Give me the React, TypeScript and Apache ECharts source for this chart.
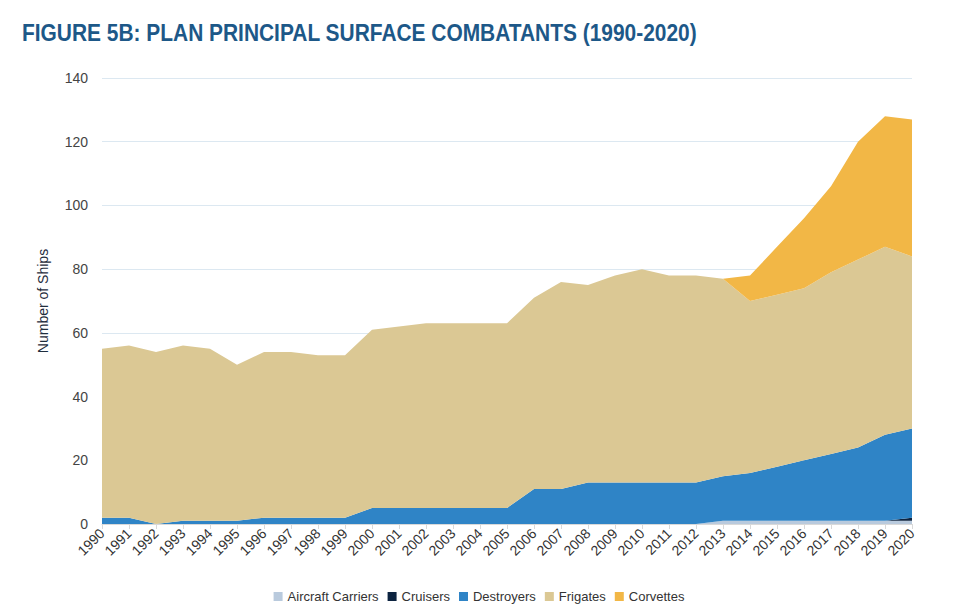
import React, { useEffect, useRef } from "react";
import * as echarts from "echarts";

const years = [
  "1990","1991","1992","1993","1994","1995","1996","1997","1998","1999",
  "2000","2001","2002","2003","2004","2005","2006","2007","2008","2009",
  "2010","2011","2012","2013","2014","2015","2016","2017","2018","2019","2020",
];
const carriers = [0,0,0,0,0,0,0,0,0,0, 0,0,0,0,0,0,0,0,0,0, 0,0,0,1,1,1,1,1,1,1,1];
const cruisers = [0,0,0,0,0,0,0,0,0,0, 0,0,0,0,0,0,0,0,0,0, 0,0,0,0,0,0,0,0,0,0,1];
const destroyers = [2,2,0,1,1,1,2,2,2,2, 5,5,5,5,5,5,11,11,13,13, 13,13,13,14,15,17,19,21,23,27,28];
const frigates = [53,54,54,55,54,49,52,52,51,51, 56,57,58,58,58,58,60,65,62,65, 67,65,65,62,54,54,54,57,59,59,54];
const corvettes = [0,0,0,0,0,0,0,0,0,0, 0,0,0,0,0,0,0,0,0,0, 0,0,0,0,8,15,22,27,37,41,43];
const yTicks = { min: 0, max: 140, interval: 20 };
const titleText = "FIGURE 5B: PLAN PRINCIPAL SURFACE COMBATANTS (1990-2020)";

const seriesDefs = [
  { name: "Aircraft Carriers", data: carriers, color: "#b9cadd" },
  { name: "Cruisers", data: cruisers, color: "#0c2340" },
  { name: "Destroyers", data: destroyers, color: "#2f84c6" },
  { name: "Frigates", data: frigates, color: "#dbc894" },
  { name: "Corvettes", data: corvettes, color: "#f2b746" },
];

export default function App() {
  const ref = useRef<HTMLDivElement>(null);
  useEffect(() => {
    const chart = echarts.init(ref.current!, null, { renderer: "svg" });
    const font = "'Liberation Sans', Arial, sans-serif";
    chart.setOption({
      animation: false,
      backgroundColor: "#ffffff",
      graphic: [
        {
          type: "text",
          x: 14,
          y: 14,
          scaleX: 0.91,
          style: {
            text: titleText,
            fill: "#1d5888",
            fontFamily: "'Liberation Sans', Arial, sans-serif",
            fontSize: 23,
            fontWeight: "bold",
            textVerticalAlign: "top",
          },
        },
      ],
      legend: {
        top: 577,
        left: "center",
        itemWidth: 9,
        itemHeight: 9,
        itemGap: 9,
        icon: "rect",
        textStyle: { fontFamily: font, fontSize: 13, color: "#333" },
        data: seriesDefs.map((s) => s.name),
      },
      grid: { left: 94, right: 38, top: 70, bottom: 83, containLabel: false },
      xAxis: {
        type: "category",
        data: years,
        boundaryGap: false,
        axisLine: { lineStyle: { color: "#d9d9d9" } },
        axisTick: { show: true, lineStyle: { color: "#d9d9d9" } },
        axisLabel: {
          rotate: 45,
          interval: 0,
          fontFamily: font,
          fontSize: 14,
          color: "#333",
          margin: 7,
        },
      },
      yAxis: {
        type: "value",
        min: yTicks.min,
        max: yTicks.max,
        interval: yTicks.interval,
        name: "Number of Ships",
        nameLocation: "middle",
        nameGap: 52,
        nameTextStyle: { fontFamily: font, fontSize: 14, color: "#1f2d3d" },
        axisLine: { show: false },
        axisTick: { show: false },
        axisLabel: { fontFamily: font, fontSize: 14, color: "#444", margin: 14 },
        splitLine: { lineStyle: { color: "#dce8f1" } },
      },
      series: seriesDefs.map((s) => ({
        name: s.name,
        type: "line",
        stack: "total",
        data: s.data,
        symbol: "none",
        lineStyle: { width: 0 },
        areaStyle: { color: s.color, opacity: 1 },
        itemStyle: { color: s.color },
      })),
    });
    return () => chart.dispose();
  }, []);
  return <div ref={ref} style={{ width: 942, height: 599 }} />;
}
